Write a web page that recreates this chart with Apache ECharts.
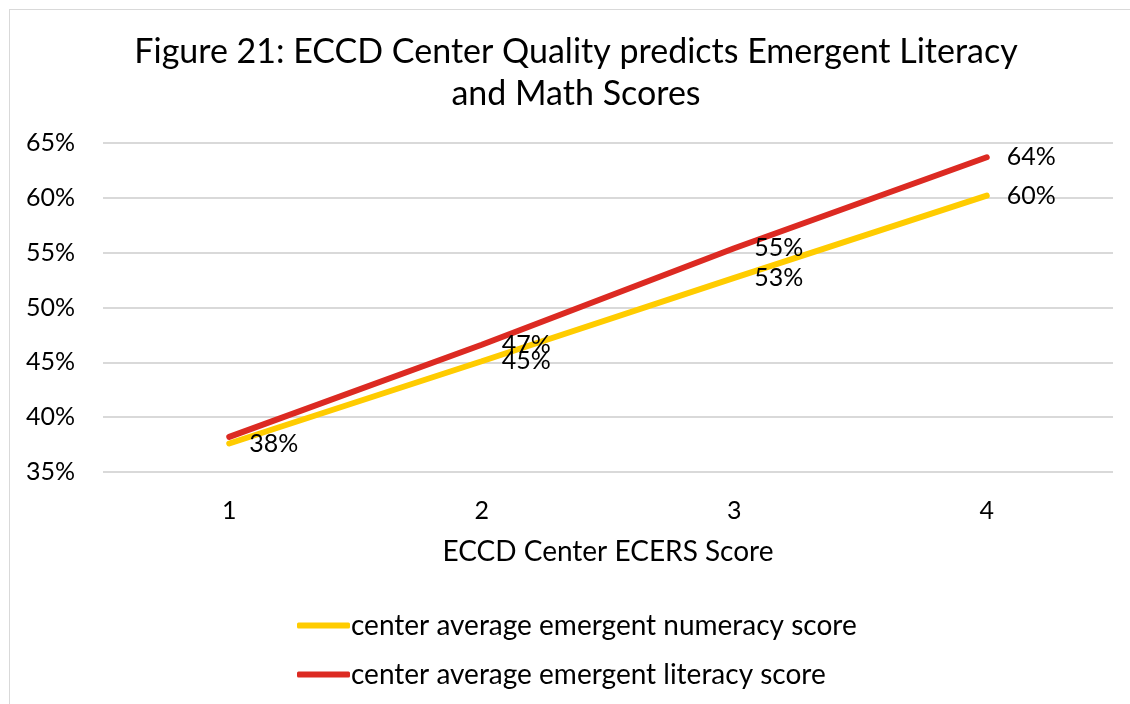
<!DOCTYPE html>
<html>
<head>
<meta charset="utf-8">
<title>ECCD Center Quality</title>
<script src="https://cdn.jsdelivr.net/npm/echarts@6/dist/echarts.min.js"></script>
<style>
  html, body { margin: 0; padding: 0; background: #ffffff; }
  #frame {
    position: absolute; left: 9px; top: 9px; width: 1130px; height: 704px;
    border: 1px solid #d9d9d9; box-sizing: border-box;
  }
  #chart { width: 1130px; height: 704px; }
</style>
</head>
<body>
<div id="frame"></div>
<div id="chart"></div>
<script>
  var categories = ['1', '2', '3', '4'];
  var numeracy = [37.6, 45.1, 52.7, 60.2];
  var literacy = [38.2, 46.6, 55.4, 63.7];
  var seriesNames = ['center average emergent numeracy score', 'center average emergent literacy score'];
  var yTicks = { min: 35, max: 65, step: 5 };

  var font = 'Lato, "Open Sans", sans-serif';

  function pct(p) { return Math.round(p.value) + '%'; }

  var chart = echarts.init(document.getElementById('chart'));
  chart.setOption({
    backgroundColor: 'transparent',
    animation: false,
    title: {
      text: 'Figure 21: ECCD Center Quality predicts Emergent Literacy\nand Math Scores',
      left: 571,
      top: 26,
      textAlign: 'center',
      textStyle: { fontFamily: font, fontWeight: 'normal', fontSize: 34, lineHeight: 42, color: '#000' }
    },
    grid: { left: 103, right: 17, top: 143, bottom: 232 },
    xAxis: {
      type: 'category',
      data: categories,
      name: 'ECCD Center ECERS Score',
      nameLocation: 'middle',
      nameGap: 66,
      nameTextStyle: { fontFamily: font, fontSize: 28, color: '#000' },
      axisLine: { show: false },
      axisTick: { show: false },
      axisLabel: { fontFamily: font, fontSize: 25, color: '#000', margin: 26 }
    },
    yAxis: {
      type: 'value',
      min: yTicks.min,
      max: yTicks.max,
      interval: yTicks.step,
      axisLine: { show: false },
      axisTick: { show: false },
      axisLabel: { formatter: '{value}%', fontFamily: font, fontSize: 25, color: '#000', margin: 28 },
      splitLine: { lineStyle: { color: '#d9d9d9', width: 2 } }
    },
    legend: {
      orient: 'vertical',
      left: 292,
      top: 606,
      itemWidth: 53,
      itemHeight: 6,
      itemGap: 20,
      data: seriesNames.map(function (n) { return { name: n, icon: 'roundRect' }; }),
      textStyle: { fontFamily: font, fontSize: 28, lineHeight: 29, color: '#000', padding: [0, 0, 0, -4] }
    },
    series: [
      {
        name: seriesNames[0],
        type: 'line',
        data: numeracy,
        symbol: 'circle',
        symbolSize: 0,
        color: '#ffcc00',
        lineStyle: { width: 6, color: '#ffcc00', cap: 'round' },
        label: { show: true, position: 'right', distance: 20, formatter: pct, fontFamily: font, fontSize: 25, color: '#000' },
        z: 2
      },
      {
        name: seriesNames[1],
        type: 'line',
        data: literacy.map(function (v, i) { return i === 0 ? { value: v, label: { show: false } } : v; }),
        symbol: 'circle',
        symbolSize: 0,
        color: '#dc2a22',
        lineStyle: { width: 6, color: '#dc2a22', cap: 'round' },
        label: { show: true, position: 'right', distance: 20, formatter: pct, fontFamily: font, fontSize: 25, color: '#000' },
        z: 3
      }
    ]
  });
</script>
</body>
</html>
